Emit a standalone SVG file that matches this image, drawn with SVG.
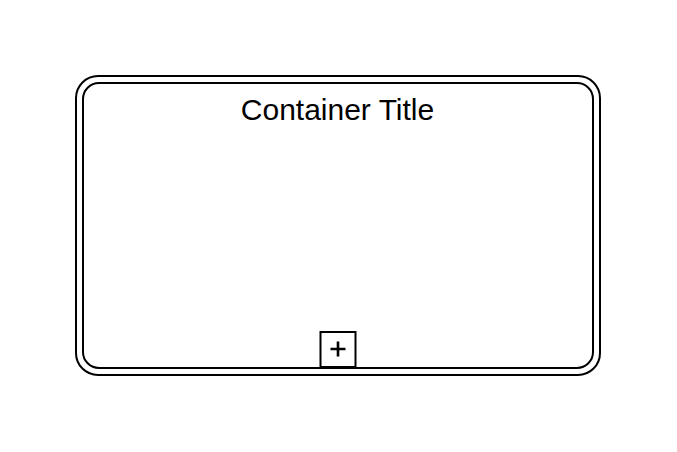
<svg xmlns="http://www.w3.org/2000/svg" width="677" height="452" viewBox="0 0 677 452">
  <style>
    .line { fill: none; stroke: #000000; stroke-width: 2; }
    .title { font-family: "Liberation Sans", Arial, sans-serif; font-size: 30px; fill: #000000; }
  </style>
  <rect x="0" y="0" width="677" height="452" fill="#ffffff"/>
  <g id="container">
    <rect class="line" x="76" y="76" width="524" height="299" rx="22" ry="22"/>
    <rect class="line" x="83" y="83" width="510" height="285" rx="16" ry="16"/>
    <text class="title" x="337.5" y="120" text-anchor="middle">Container Title</text>
  </g>
  <g id="expand-marker">
    <rect class="line" x="320.5" y="332" width="35" height="35" fill="#ffffff"/>
    <path class="line" style="stroke-width:2.6" d="M330.5 349 H345.5 M338 341.5 V356.5"/>
  </g>
  <g id="connectors"></g>
</svg>
